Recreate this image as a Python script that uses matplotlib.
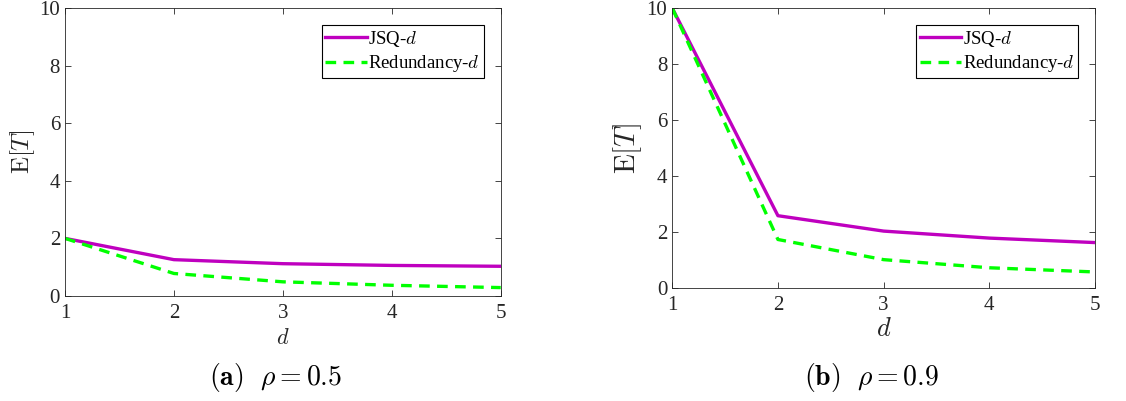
import matplotlib
matplotlib.use("Agg")
import matplotlib.pyplot as plt

plt.rcParams['font.family'] = ['Liberation Serif', 'DejaVu Serif']
plt.rcParams['mathtext.fontset'] = 'cm'

d_values = [1, 2, 3, 4, 5]
jsq_05 = [2.0, 1.26, 1.12, 1.06, 1.03]
red_05 = [2.0, 0.78, 0.49, 0.37, 0.29]
jsq_09 = [10.0, 2.58, 2.03, 1.78, 1.62]
red_09 = [10.0, 1.73, 1.01, 0.72, 0.57]
captions = [r'$\mathbf{(a)}\ \ \rho = 0.5$', r'$\mathbf{(b)}\ \ \rho = 0.9$']

purple = (0.75, 0.0, 0.75)
green = (0.0, 1.0, 0.0)
txt = '#262626'

fig = plt.figure(figsize=(11.26, 4.01), dpi=100)
ax1 = fig.add_axes([0.0577, 0.262, 0.387, 0.718])
ax2 = fig.add_axes([0.597, 0.282, 0.3755, 0.698])


def draw(ax, jsq, red, ylab_size, xlab_size, xpad):
    ax.plot(d_values, jsq, color=purple, lw=2.4, label=r'JSQ-$d$')
    ax.plot(d_values, red, color=green, lw=2.4, ls=(0, (3.2, 2.2)), label=r'Redundancy-$d$')
    ax.set_xlim(1, 5)
    ax.set_ylim(0, 10)
    ax.set_xticks(d_values)
    ax.set_yticks([0, 2, 4, 6, 8, 10])
    ax.tick_params(direction='in', top=True, right=True, labelsize=15,
                   colors=txt, length=4, width=0.6)
    ax.tick_params(axis='x', pad=6)
    for s in ax.spines.values():
        s.set_color(txt)
        s.set_linewidth(0.6)
    ax.set_ylabel(r'$\mathrm{E}[T]$', fontsize=ylab_size, color=txt, labelpad=2)
    ax.set_xlabel(r'$d$', fontsize=xlab_size, color=txt, labelpad=xpad)
    leg = ax.legend(loc='upper right', fontsize=13.5, fancybox=False, framealpha=1,
                    edgecolor='black', handlelength=2.2, handletextpad=0.1,
                    borderpad=0.2, labelspacing=0.25, borderaxespad=0.9)
    leg.get_frame().set_linewidth(0.8)


draw(ax1, jsq_05, red_05, 18, 16, 4)
draw(ax2, jsq_09, red_09, 21, 19, 2)

fig.text(276 / 1126, 1 - 378 / 401, captions[0], ha='center', va='center', fontsize=20)
fig.text(872 / 1126, 1 - 378 / 401, captions[1], ha='center', va='center', fontsize=20)

fig.savefig('out.png', dpi=100)
